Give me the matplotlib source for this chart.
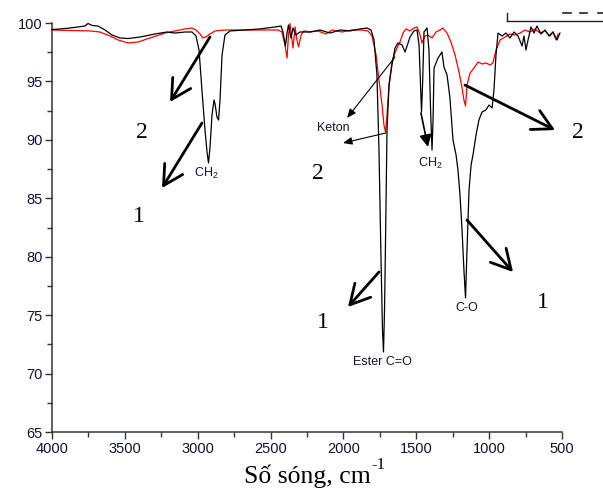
import matplotlib
matplotlib.use("Agg")
import matplotlib.pyplot as plt
from matplotlib.lines import Line2D
from matplotlib.ticker import MultipleLocator

plt.rcParams['font.family'] = ['Liberation Sans', 'DejaVu Sans']
plt.rcParams['mathtext.fontset'] = 'custom'
plt.rcParams['mathtext.rm'] = 'Liberation Sans'

# ---- data (wavenumber cm-1, transmittance %) ----
wn_black = [4000, 3945, 3876, 3822, 3774, 3753, 3725, 3684, 3636, 3588, 3533, 3478, 3396, 3293, 3211,
            3156, 3087, 3039, 3012, 2991, 2971, 2950, 2936, 2926, 2916, 2902, 2888, 2881, 2868, 2857,
            2847, 2833, 2813, 2778, 2675, 2573, 2470, 2428, 2415, 2398, 2387, 2377, 2360, 2346, 2326,
            2298, 2229, 2161, 2092, 2023, 1955, 1886, 1838, 1811, 1790, 1770, 1756, 1742, 1732, 1725,
            1718, 1711, 1701, 1687, 1667, 1646, 1626, 1598, 1577, 1543, 1516, 1495, 1481, 1471, 1464,
            1457, 1447, 1426, 1413, 1402, 1392, 1385, 1378, 1351, 1324, 1310, 1289, 1269, 1248, 1227,
            1214, 1200, 1186, 1173, 1162, 1152, 1138, 1124, 1111, 1090, 1070, 1049, 1022, 1001, 980,
            967, 953, 939, 912, 884, 857, 829, 802, 774, 761, 747, 733, 713, 692, 672, 644, 617, 589,
            562, 534, 514]
t_black = [99.44, 99.49, 99.57, 99.66, 99.74, 99.96, 99.79, 99.74, 99.40, 98.97, 98.72, 98.67, 98.80, 99.06, 99.23,
           99.14, 99.23, 99.23, 98.89, 97.69, 94.27, 90.84, 88.96, 88.02, 89.30, 92.13, 93.41, 93.07, 91.96, 91.70,
           93.41, 97.26, 98.97, 99.32, 99.40, 99.49, 99.66, 99.74, 99.23, 98.03, 99.14, 99.83, 98.72, 99.57, 98.97,
           99.23, 99.23, 99.40, 99.14, 99.40, 99.32, 99.49, 99.57, 99.40, 98.55, 95.55, 89.13, 79.72, 73.73, 71.85,
           75.44, 81.43, 90.84, 94.69, 96.41, 97.86, 98.29, 98.12, 97.52, 98.80, 99.32, 99.40, 98.12, 94.69, 92.38,
           94.69, 99.23, 99.57, 97.69, 92.56, 89.13, 91.70, 96.15, 97.00, 97.52, 96.23, 95.55, 93.58, 89.99, 88.70,
           87.42, 85.28, 82.29, 78.86, 76.47, 80.57, 85.71, 87.85, 88.70, 90.42, 91.70, 92.38, 92.56, 92.98, 92.73,
           94.27, 97.26, 99.14, 98.89, 99.14, 98.72, 99.23, 98.89, 98.03, 98.89, 97.69, 98.55, 99.66, 99.14, 99.74, 99.06, 99.40, 98.89,
           99.23, 98.55, 99.14]

wn_red = [4000, 3876, 3739, 3671, 3602, 3547, 3478, 3410, 3327, 3224, 3156, 3087, 3039, 3012, 2984,
          2964, 2943, 2916, 2881, 2813, 2710, 2573, 2449, 2422, 2401, 2387, 2377, 2367, 2353, 2346,
          2332, 2319, 2308, 2291, 2271, 2229, 2175, 2120, 2078, 2010, 1941, 1873, 1831, 1804, 1776,
          1756, 1735, 1722, 1711, 1701, 1687, 1667, 1639, 1612, 1591, 1571, 1543, 1516, 1495, 1474,
          1461, 1440, 1420, 1392, 1365, 1337, 1317, 1289, 1262, 1234, 1207, 1186, 1173, 1162, 1152,
          1131, 1104, 1076, 1049, 1022, 994, 974, 953, 925, 891, 857, 823, 788, 754, 720, 685, 651,
          617, 582, 562, 541, 527]
t_red = [99.40, 99.36, 99.32, 99.23, 98.89, 98.55, 98.29, 98.37, 98.72, 99.14, 99.32, 99.49, 99.57, 99.40, 99.06,
         98.72, 98.80, 99.06, 99.32, 99.40, 99.40, 99.40, 99.40, 99.23, 98.12, 97.00, 98.97, 99.96, 98.55, 97.86,
         99.66, 98.55, 97.95, 98.97, 99.32, 99.23, 99.32, 99.06, 99.40, 99.23, 99.40, 99.40, 99.32, 98.89, 97.26,
         95.12, 92.98, 91.27, 90.67, 92.13, 94.69, 96.66, 97.69, 98.37, 99.14, 99.49, 99.32, 99.57, 99.66, 98.97,
         98.29, 98.89, 98.97, 98.72, 99.23, 99.40, 99.57, 99.14, 98.37, 97.26, 95.81, 94.44, 93.41, 92.90, 94.69,
         95.72, 96.15, 96.66, 96.49, 96.58, 96.41, 96.58, 97.69, 98.55, 98.80, 99.06, 98.97, 99.14, 99.40, 99.23, 99.49, 99.14,
         99.32, 98.89, 99.23, 98.55, 99.06]

x_ticks = [4000, 3500, 3000, 2500, 2000, 1500, 1000, 500]
y_ticks = [65, 70, 75, 80, 85, 90, 95, 100]

fig = plt.figure(figsize=(6.03, 4.90), dpi=100)
ax = fig.add_axes([52/603, 1-432/490, 510/603, 409/490])

ax.plot(wn_red, t_red, color='#ff0000', lw=0.9, clip_on=False, zorder=3)
ax.plot(wn_black, t_black, color='#000000', lw=0.9, clip_on=False, zorder=4)

ax.set_xlim(4000, 500)
ax.set_ylim(65, 100)
ax.set_xticks(x_ticks)
ax.set_yticks(y_ticks)
ax.xaxis.set_minor_locator(MultipleLocator(250))
ax.yaxis.set_minor_locator(MultipleLocator(2.5))
for s in ['top', 'right']:
    ax.spines[s].set_visible(False)
for s in ['left', 'bottom']:
    ax.spines[s].set_linewidth(1.1)
    ax.spines[s].set_color('#333333')
ax.tick_params(which='major', direction='out', length=5, width=1.0, color='#333333',
               labelsize=10.5, labelcolor='#111133', pad=2)
ax.tick_params(which='minor', direction='out', length=3.5, width=1.0, color='#333333')

# x axis title (serif, with superscript)
fig.text(244/603, 1-483/490, 'Số sóng, cm', family='Liberation Serif', fontsize=18.5,
         ha='left', va='baseline')
fig.text(371/603, 1-469/490, '-1', family='Liberation Serif', fontsize=12,
         ha='left', va='baseline')

serif = dict(family='Liberation Serif', fontsize=17, ha='center', va='center')
small = dict(fontsize=9, ha='center', va='center', color='#111133')
thick = dict(arrowstyle='->,head_length=0.7,head_width=0.38', lw=2.0, color='black',
             mutation_scale=20, shrinkA=0, shrinkB=0)
thin = dict(arrowstyle='-|>,head_length=0.6,head_width=0.25', lw=0.8, color='black',
            mutation_scale=9, shrinkA=0, shrinkB=0)

# left CH2 region
ax.annotate('', xy=(3190, 93.24), xytext=(2916, 98.80), arrowprops=thick)
ax.text(3382, 90.59, '2', **serif)
ax.annotate('', xy=(3245, 85.88), xytext=(2971, 91.44), arrowprops=thick)
ax.text(3403, 83.40, '1', **serif)
ax.text(2943, 87.1, 'CH$_\\mathregular{2}$', **small)

# ketone / ester region
ax.text(2072, 91.0, 'Keton', **small)
ax.annotate('', xy=(1975, 91.87), xytext=(1646, 97.09), arrowprops=thin)
ax.annotate('', xy=(2003, 89.73), xytext=(1708, 90.59), arrowprops=thin)
ax.text(2175, 87.16, '2', **serif)
ax.annotate('', xy=(1969, 75.70), xytext=(1756, 78.69), arrowprops=thick)
ax.text(2140, 74.41, '1', **serif)
ax.text(1735, 71.0, 'Ester C=O', **small)

# CH2 bending
ax.annotate('', xy=(1420, 89.39), xytext=(1468, 92.30),
            arrowprops=dict(arrowstyle='-|>,head_length=0.8,head_width=0.4', lw=1.2, color='black',
                            mutation_scale=9, shrinkA=0, shrinkB=0))
ax.text(1406, 88.0, 'CH$_\\mathregular{2}$', **small)

# C-O region
ax.text(1152, 75.6, 'C-O', **small)
ax.annotate('', xy=(836, 78.69), xytext=(1152, 83.14), arrowprops=thick)
ax.text(630, 76.12, '1', **serif)
ax.annotate('', xy=(548, 90.84), xytext=(1166, 94.69), arrowprops=thick)
ax.text(390, 90.67, '2', **serif)

# cropped legend frame remnant (top right)
fig.add_artist(Line2D([507/603, 1.0], [1-21.5/490, 1-21.5/490], transform=fig.transFigure,
                      color='#222222', lw=1.0))
fig.add_artist(Line2D([507/603, 507/603], [1-13/490, 1-21.5/490], transform=fig.transFigure,
                      color='#222222', lw=1.0))
for x0, x1 in [(563, 571), (580, 587), (598, 603)]:
    fig.add_artist(Line2D([x0/603, x1/603], [1-13/490, 1-13/490], transform=fig.transFigure,
                          color='#222222', lw=1.2))

fig.savefig('out.png', dpi=100)
